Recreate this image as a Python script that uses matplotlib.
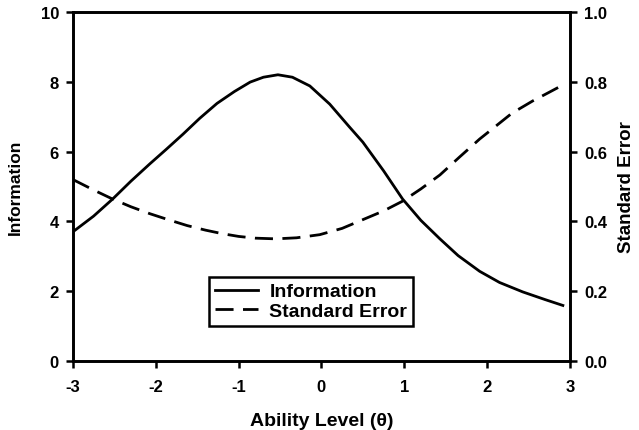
import matplotlib
matplotlib.use("Agg")
import matplotlib.pyplot as plt
from matplotlib.lines import Line2D

plt.rcParams['font.family'] = ['Liberation Sans', 'DejaVu Sans']
plt.rcParams['font.weight'] = 'bold'

# Test information curve
info_theta = [-3.0, -2.75, -2.52, -2.3, -2.07, -1.87, -1.67, -1.47, -1.26, -1.05,
              -0.86, -0.7, -0.525, -0.35, -0.14, 0.10, 0.34, 0.50, 0.75, 0.98,
              1.2, 1.43, 1.65, 1.91, 2.15, 2.43, 2.7, 2.93]
info_vals = [3.70, 4.15, 4.64, 5.15, 5.65, 6.07, 6.50, 6.95, 7.38, 7.72,
             7.99, 8.13, 8.20, 8.13, 7.88, 7.36, 6.70, 6.27, 5.45, 4.64,
             4.03, 3.50, 3.02, 2.57, 2.25, 1.98, 1.76, 1.58]

# Standard error curve
se_theta = [-3.0, -2.75, -2.52, -2.3, -2.07, -1.85, -1.62, -1.4, -1.2, -1.0,
            -0.8, -0.55, -0.3, -0.02, 0.25, 0.50, 0.75, 0.98, 1.2, 1.43,
            1.67, 1.91, 2.1, 2.3, 2.55, 2.75, 2.94]
se_vals = [0.520, 0.490, 0.464, 0.442, 0.422, 0.405, 0.388, 0.375, 0.365, 0.357,
           0.352, 0.350, 0.353, 0.362, 0.380, 0.405, 0.430, 0.458, 0.493, 0.533,
           0.585, 0.636, 0.672, 0.710, 0.745, 0.770, 0.794]

x_ticks = [-3, -2, -1, 0, 1, 2, 3]
left_ticks = [0, 2, 4, 6, 8, 10]
right_ticks = [0.0, 0.2, 0.4, 0.6, 0.8, 1.0]
right_tick_labels = ['0.0', '0.2', '0.4', '0.6', '0.8', '1.0']

fig = plt.figure(figsize=(6.39, 4.31), dpi=100)
ax = fig.add_axes([0.114, 0.160, 0.778, 0.810])
ax2 = ax.twinx()

lw = 2.0
ax.plot(info_theta, info_vals, color='black', lw=lw, solid_capstyle='butt',
        solid_joinstyle='round')
ax2.plot(se_theta, se_vals, color='black', lw=lw, dashes=(6.5, 3.4), dash_capstyle='butt')

ax.set_xlim(-3, 3)
ax.set_ylim(0, 10)
ax2.set_ylim(0, 1.0)
ax.set_xticks(x_ticks)
ax.set_xticklabels([str(t) for t in x_ticks])
ax.set_yticks(left_ticks)
ax2.set_yticks(right_ticks)
ax2.set_yticklabels(right_tick_labels)

for a in (ax, ax2):
    for s in a.spines.values():
        s.set_linewidth(1.9)
    a.tick_params(direction='out', length=5, width=1.8, labelsize=12, pad=5)
    for lab in a.get_xticklabels() + a.get_yticklabels():
        lab.set_fontweight('bold')
ax.tick_params(axis='x', pad=8)

ax.set_xlabel('Ability Level (θ)', fontsize=14, fontweight='bold', va='center')
ax.xaxis.set_label_coords(0.5, -0.169)
ax.set_ylabel('Information', fontsize=12.5, fontweight='bold', va='center')
ax.yaxis.set_label_coords(-0.115, 0.5)
ax2.set_ylabel('Standard Error', fontsize=13.5, fontweight='bold', va='center')
ax2.yaxis.set_label_coords(1.114, 0.5)

handles = [Line2D([], [], color='black', lw=lw),
           Line2D([], [], color='black', lw=lw, dashes=(6.5, 3.4))]
leg = ax.legend(handles, ['Information', 'Standard Error'], loc='lower left',
                bbox_to_anchor=(0.274, 0.100), borderaxespad=0, fancybox=False,
                framealpha=1, edgecolor='black', prop={'weight': 'bold', 'size': 14},
                handlelength=2.2, handletextpad=0.6, labelspacing=0.12,
                borderpad=0.3)
leg.get_frame().set_linewidth(1.8)

fig.savefig('out.png', dpi=100)
